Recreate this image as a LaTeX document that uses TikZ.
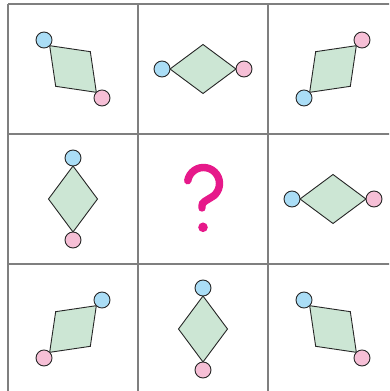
\documentclass[tikz,border=0pt]{standalone}
\usetikzlibrary{shapes.geometric}
\definecolor{skyblue}{HTML}{AADDF6}
\definecolor{rosepink}{HTML}{F6BFD6}
\definecolor{mintgreen}{HTML}{CCE6D4}
\definecolor{qmagenta}{HTML}{E6198A}
\definecolor{gridgray}{HTML}{7F7F7F}
\begin{document}
\begin{tikzpicture}[x=1pt,y=1pt,
  gridline/.style={gridgray,line width=1.3pt},
  gem/.style={diamond,draw=black!85,fill=mintgreen,line width=0.9pt,inner sep=0pt,outer sep=0pt,minimum width=66pt,minimum height=49pt},
  bead/.style={circle,draw=black!85,line width=0.9pt,inner sep=0pt,outer sep=0pt,minimum size=16pt}]
\useasboundingbox (0,0) rectangle (389,391);
\clip (0,0) rectangle (389,391);

% grid
\foreach \k in {0,...,3} {
  \draw[gridline] (8+130*\k,-3) -- (8+130*\k,387);
  \draw[gridline] (8,-3+130*\k) -- (398,-3+130*\k);
}

% rhombi with their two beads
\foreach \cx/\cy/\ang [count=\i] in {73/322/135, 203/322/180, 333/322/225,
                                     73/192/90, 333/192/180,
                                     73/62/45, 203/62/90, 333/62/135} {
  \node[gem,rotate=\ang] (gem\i) at (\cx,\cy) {};
  \node[bead,fill=skyblue,rotate=\ang,anchor=west] (blue\i) at (gem\i.east) {};
  \node[bead,fill=rosepink,rotate=\ang,anchor=east] (pink\i) at (gem\i.west) {};
}

% question mark
\draw[qmagenta,line width=7.4pt,line cap=round]
  (203.5,207.5) ++(170:16) arc[start angle=170,end angle=-50,radius=16]
  .. controls (205,189.5) and (202,189) .. (202,185) -- (202,183);
\fill[qmagenta] (203,163.7) circle (4.8);
\end{tikzpicture}
\end{document}
